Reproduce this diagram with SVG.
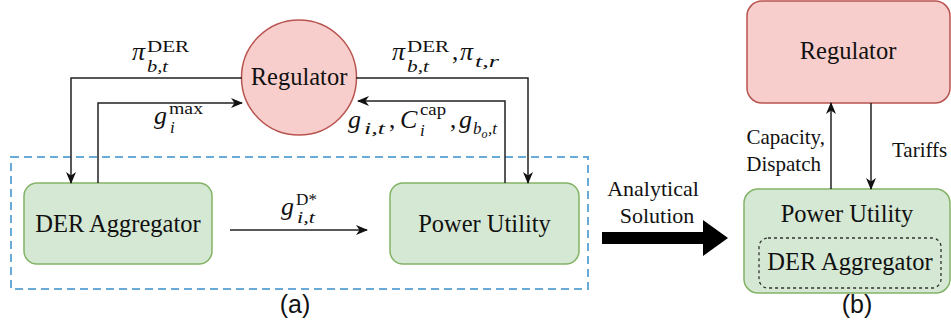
<svg xmlns="http://www.w3.org/2000/svg" width="951" height="334" viewBox="0 0 951 334">
<defs>
<style>
text{font-family:"Liberation Serif","DejaVu Serif",serif;fill:#111}
.lbl{font-size:24.5px;text-anchor:middle}
.sm{font-size:21px}
.cap{font-family:"Liberation Sans",Arial,sans-serif;font-size:25px;text-anchor:middle}
.m{font-style:italic;font-size:26px}
.sup{font-size:16px}
.sub{font-style:italic;font-size:17px}
.ssub{font-style:italic;font-size:12px}
.mr{font-size:25px}
.green{fill:#d5e8d4;stroke:#82b366;stroke-width:1.5}
.red{fill:#f8cecc;stroke:#b85450;stroke-width:1.5}
.conn{fill:none;stroke:#222;stroke-width:1.5}
</style>
<marker id="arr" viewBox="0 0 12 10" refX="11" refY="5" markerWidth="12" markerHeight="10" markerUnits="userSpaceOnUse" orient="auto">
<path d="M0,0 L12,5 L0,10 L3.5,5 z" fill="#111"/>
</marker>
</defs>
<rect width="951" height="334" fill="#fff"/>

<g id="boundary">
<rect x="11" y="157" width="577" height="132" fill="none" stroke="#6aaad8" stroke-width="2" stroke-dasharray="8 5"/>
</g>

<g id="regulator-a">
<circle cx="299" cy="77.5" r="57.5" class="red"/>
<text x="299" y="85" class="lbl">Regulator</text>
</g>

<g id="der-aggregator-a">
<rect x="24" y="183" width="188" height="81" rx="13" class="green"/>
<text x="118" y="232" class="lbl">DER Aggregator</text>
</g>

<g id="power-utility-a">
<rect x="390" y="183" width="189" height="81" rx="13" class="green"/>
<text x="484.5" y="232" class="lbl">Power Utility</text>
</g>

<g id="regulator-b">
<rect x="747" y="1" width="203" height="102" rx="15" class="red"/>
<text x="848" y="59" class="lbl">Regulator</text>
</g>

<g id="power-utility-b">
<rect x="744" y="189" width="206" height="104" rx="14" class="green"/>
<text x="847" y="222" class="lbl">Power Utility</text>
<rect x="759" y="238" width="182" height="50" rx="9" fill="none" stroke="#333" stroke-width="1.3" stroke-dasharray="3 3"/>
<text x="850" y="270" class="lbl">DER Aggregator</text>
</g>

<g id="connectors">
<path d="M242,78 H71 V183" class="conn" marker-end="url(#arr)"/>
<path d="M98,183 V103 H242" class="conn" marker-end="url(#arr)"/>
<path d="M356,78 H528 V183" class="conn" marker-end="url(#arr)"/>
<path d="M505,183 V101 H358" class="conn" marker-end="url(#arr)"/>
<path d="M230,230 H367" class="conn" marker-end="url(#arr)"/>
<path d="M831,189 V103" class="conn" marker-end="url(#arr)"/>
<path d="M871,103 V189" class="conn" marker-end="url(#arr)"/>
<polygon points="602,232 703,232 703,220 728,238 703,256 703,244 602,244" fill="#000"/>
</g>

<g id="labels">
<text x="132" y="60" class="m">π</text>
<text x="147" y="52" class="sup" textLength="42" lengthAdjust="spacingAndGlyphs">DER</text>
<text x="147" y="72" class="sub" textLength="21" lengthAdjust="spacingAndGlyphs">b,t</text>

<text x="154" y="124" class="m">g</text>
<text x="169" y="114" class="sup" textLength="34" lengthAdjust="spacingAndGlyphs">max</text>
<text x="170" y="133" class="sub">i</text>

<text x="392" y="60" class="m">π</text>
<text x="407" y="52" class="sup" textLength="42" lengthAdjust="spacingAndGlyphs">DER</text>
<text x="407" y="72" class="sub" textLength="22" lengthAdjust="spacingAndGlyphs">b,t</text>
<text x="452" y="60" class="mr">,</text>
<text x="460" y="60" class="m">π</text>
<text x="475" y="67" class="sub" textLength="24" lengthAdjust="spacingAndGlyphs">t,r</text>

<text x="348" y="128" class="m">g</text>
<text x="364" y="134" class="sub" textLength="21" lengthAdjust="spacingAndGlyphs">i,t</text>
<text x="389" y="128" class="mr">,</text>
<text x="400" y="128" class="m">C</text>
<text x="420" y="115" class="sup" textLength="26" lengthAdjust="spacingAndGlyphs">cap</text>
<text x="420" y="136" class="sub">i</text>
<text x="450" y="128" class="mr">,</text>
<text x="459" y="128" class="m">g</text>
<text x="473" y="134" class="sub">b</text>
<text x="481.5" y="138" class="ssub">o</text>
<text x="488" y="134" class="sub">,t</text>

<text x="281" y="215" class="m">g</text>
<text x="296" y="205" class="sup" textLength="21" lengthAdjust="spacingAndGlyphs">D*</text>
<text x="297" y="223" class="sub" textLength="18" lengthAdjust="spacingAndGlyphs">i,t</text>

<text x="825" y="144" class="sm" text-anchor="end">Capacity,</text>
<text x="821" y="171" class="sm" text-anchor="end">Dispatch</text>
<text x="892" y="157" class="sm">Tariffs</text>

<text x="653" y="196" class="lbl" style="font-size:22px">Analytical</text>
<text x="657" y="223" class="lbl" style="font-size:22px">Solution</text>

<text x="295" y="313" class="cap">(a)</text>
<text x="857" y="313" class="cap">(b)</text>
</g>
</svg>
